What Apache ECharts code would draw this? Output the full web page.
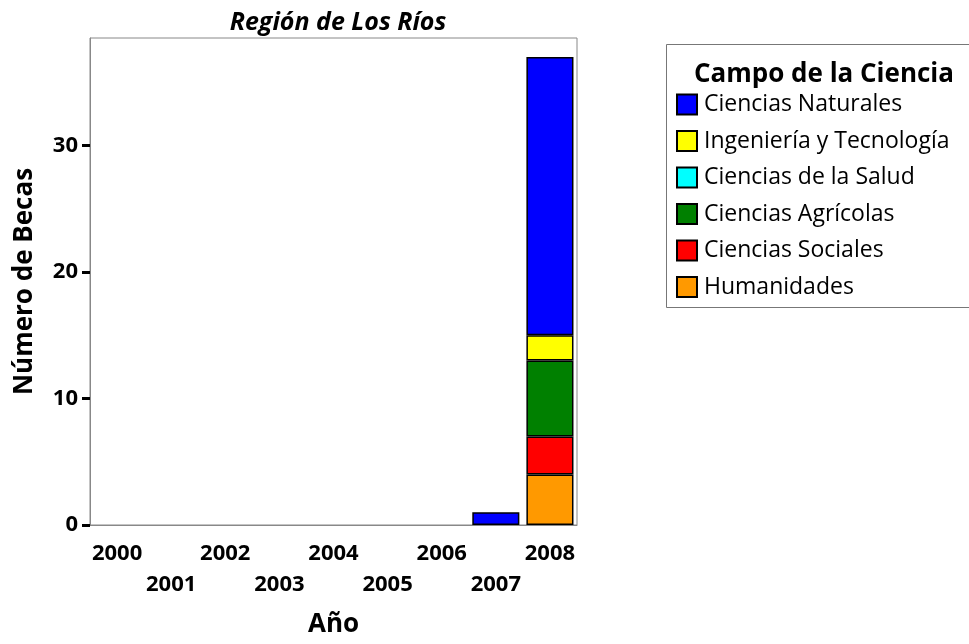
<!DOCTYPE html>
<html>
<head>
<meta charset="utf-8">
<script src="https://cdn.jsdelivr.net/npm/echarts@6/dist/echarts.min.js"></script>
<style>
  html, body { margin: 0; padding: 0; background: #fff; }
  #chart { width: 969px; height: 644px; }
</style>
</head>
<body>
<div id="chart"></div>
<script>
// data
const years = ["2000", "2001", "2002", "2003", "2004", "2005", "2006", "2007", "2008"];
const yTicks = [0, 10, 20, 30];
const humanidades = [0, 0, 0, 0, 0, 0, 0, 0, 4];
const sociales = [0, 0, 0, 0, 0, 0, 0, 0, 3];
const agricolas = [0, 0, 0, 0, 0, 0, 0, 0, 6];
const salud = [0, 0, 0, 0, 0, 0, 0, 0, 0];
const ingenieria = [0, 0, 0, 0, 0, 0, 0, 0, 2];
const naturales = [0, 0, 0, 0, 0, 0, 0, 1, 22];

const font = "Open Sans";

// bottom of the stack first
const stackDefs = [
  { name: "Humanidades", data: humanidades, color: "#FF9900" },
  { name: "Ciencias Sociales", data: sociales, color: "#FF0000" },
  { name: "Ciencias Agrícolas", data: agricolas, color: "#008000" },
  { name: "Ciencias de la Salud", data: salud, color: "#00FFFF" },
  { name: "Ingeniería y Tecnología", data: ingenieria, color: "#FFFF00" },
  { name: "Ciencias Naturales", data: naturales, color: "#0000FF" },
];

const chart = echarts.init(document.getElementById("chart"));

const options = {
  animation: false,
  textStyle: { fontFamily: font },
  title: [
    {
      text: "Región de Los Ríos",
      left: 333,
      top: 5,
      textAlign: "center",
      textStyle: { fontFamily: font, fontSize: 25, fontWeight: "bold", fontStyle: "italic", color: "#000" },
    },
    {
      text: "Campo de la Ciencia",
      left: 819,
      top: 57,
      textAlign: "center",
      textStyle: { fontFamily: font, fontSize: 26, fontWeight: "bold", color: "#000" },
    },
  ],
  graphic: [
    {
      type: "rect",
      z: -1,
      shape: { x: 666.5, y: 44.5, width: 320, height: 263 },
      style: { fill: "#fff", stroke: "#777", lineWidth: 1 },
    },
  ],
  legend: {
    orient: "vertical",
    left: 676,
    top: 93,
    padding: 0,
    itemWidth: 20,
    itemHeight: 20,
    itemGap: 13.5,
    icon: "rect",
    data: stackDefs.map((s) => s.name).reverse(),
    textStyle: { fontFamily: font, fontSize: 23, color: "#000", padding: [0, 0, 0, 2] },
  },
  grid: {
    left: 90,
    right: 392,
    top: 38,
    bottom: 119,
    show: true,
    borderColor: "#888",
    borderWidth: 1,
    backgroundColor: "#fff",
  },
  xAxis: {
    type: "category",
    data: years,
    name: "Año",
    nameLocation: "middle",
    nameGap: 87,
    nameTextStyle: { fontFamily: font, fontSize: 26, fontWeight: "bold", color: "#000" },
    axisLine: { lineStyle: { color: "#888", width: 1 } },
    axisTick: { alignWithLabel: true, length: 8, lineStyle: { color: "#000", width: 3 } },
    axisLabel: {
      interval: 0,
      margin: 13,
      fontFamily: font,
      fontSize: 22,
      fontWeight: "bold",
      color: "#000",
      lineHeight: 31,
      formatter: (v, i) => (i % 2 === 1 ? "\n" + v : v),
    },
  },
  yAxis: {
    type: "value",
    min: 0,
    max: 38.5,
    interval: 10,
    name: "Número de Becas",
    nameLocation: "middle",
    nameGap: 52,
    nameTextStyle: { fontFamily: font, fontSize: 26, fontWeight: "bold", color: "#000" },
    splitLine: { show: false },
    axisLine: { show: true, lineStyle: { color: "#888", width: 1 } },
    axisTick: { show: true, length: 8, customValues: yTicks, lineStyle: { color: "#000", width: 3 } },
    axisLabel: {
      margin: 12,
      customValues: yTicks,
      fontFamily: font,
      fontSize: 22,
      fontWeight: "bold",
      color: "#000",
    },
  },
  series: stackDefs.map((s) => ({
    name: s.name,
    type: "bar",
    stack: "total",
    barWidth: "87%",
    data: s.data.map((v) => (v === 0 ? "-" : v)),
    itemStyle: { color: s.color, borderColor: "#000", borderWidth: 1.5 },
  })),
};

chart.setOption(options);
</script>
</body>
</html>
